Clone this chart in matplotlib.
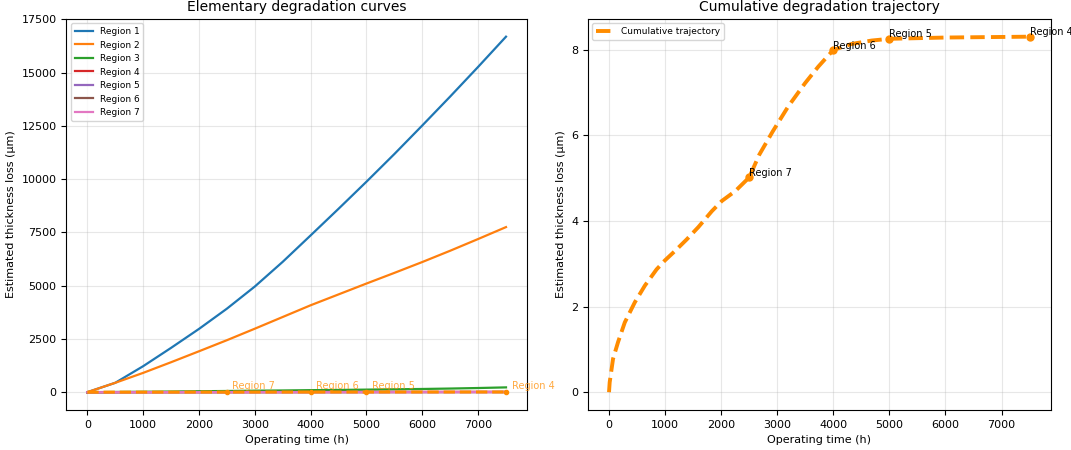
import matplotlib
matplotlib.use('Agg')
import matplotlib.pyplot as plt

# Operating time grid (h) for the elementary curves
time_h = [0, 500, 1000, 1500, 2000, 2500, 3000, 3500, 4000, 4500, 5000,
          5500, 6000, 6500, 7000, 7500]

# Elementary degradation curves (um)
region_1 = [0, 440, 1220, 2080, 2970, 3920, 4960, 6120, 7360, 8610, 9880,
            11180, 12520, 13880, 15270, 16690]
region_2 = [0, 440, 906, 1406, 1920, 2440, 2980, 3530, 4080, 4590, 5100,
            5600, 6110, 6640, 7190, 7750]
region_3 = [0, 10, 20, 30, 45, 55, 70, 80, 95, 105, 120, 135, 150, 170, 195, 225]
region_4 = [0, 1, 2, 3, 4, 5, 6, 7, 8, 9, 10, 11, 12, 13, 14, 15]
region_5 = [0, 1, 1, 2, 2, 3, 3, 4, 4, 5, 5, 6, 6, 7, 7, 8]
region_6 = [0, 0, 1, 1, 1, 2, 2, 2, 3, 3, 3, 4, 4, 4, 5, 5]
region_7 = [0, 0, 0, 1, 1, 1, 1, 1, 2, 2, 2, 2, 2, 3, 3, 3]
region_curves = [region_1, region_2, region_3, region_4, region_5, region_6, region_7]
region_names = ['Region 1', 'Region 2', 'Region 3', 'Region 4', 'Region 5',
                'Region 6', 'Region 7']

# Cumulative trajectory (um)
cum_time = [0, 12, 72, 161, 281, 460, 639, 848, 997, 1176, 1385, 1594, 1833,
            2012, 2251, 2500, 2679, 2917, 3196, 3494, 3732, 4000, 4327, 4685,
            5000, 6000, 7500]
cum_loss = [0, 0.23, 0.78, 1.17, 1.63, 2.10, 2.49, 2.87, 3.08, 3.30, 3.57,
            3.86, 4.23, 4.47, 4.70, 5.02, 5.55, 6.09, 6.68, 7.22, 7.61, 8.00,
            8.14, 8.22, 8.26, 8.29, 8.31]

# Region transitions along the trajectory
switch_time = [2500, 4000, 5000, 7500]
switch_loss = [5.02, 8.00, 8.26, 8.31]
switch_names = ['Region 7', 'Region 6', 'Region 5', 'Region 4']

traj_color = '#ff8c00'

fig = plt.figure(figsize=(10.71, 4.5), dpi=100)
ax1 = fig.add_axes([0.062, 0.089, 0.430, 0.869])
ax2 = fig.add_axes([0.549, 0.089, 0.432, 0.869])

# Left panel: elementary curves
for name, values in zip(region_names, region_curves):
    ax1.plot(time_h, values, lw=1.6, label=name)
ax1.plot(cum_time, cum_loss, ls='--', color=traj_color, lw=2.2)
ax1.plot(switch_time, switch_loss, 'o', color=traj_color, ms=3)
for t, v, name in zip(switch_time, switch_loss, switch_names):
    ax1.annotate(name, (t, v), xytext=(4, 2), textcoords='offset points',
                 fontsize=7, color=traj_color, alpha=0.75)
ax1.set_title('Elementary degradation curves', fontsize=10)
ax1.set_xlabel('Operating time (h)', fontsize=8)
ax1.set_ylabel('Estimated thickness loss (µm)', fontsize=8)
ax1.tick_params(labelsize=8)
ax1.grid(True, alpha=0.3)
ax1.legend(loc='upper left', fontsize=6.5)

# Right panel: cumulative trajectory
ax2.plot(cum_time, cum_loss, ls='--', color=traj_color, lw=2.8,
         label='Cumulative trajectory')
ax2.plot(switch_time, switch_loss, 'o', color=traj_color, ms=5)
for t, v, name in zip(switch_time, switch_loss, switch_names):
    ax2.annotate(name, (t, v), xytext=(0, 1), textcoords='offset points',
                 fontsize=7)
ax2.set_title('Cumulative degradation trajectory', fontsize=10)
ax2.set_xlabel('Operating time (h)', fontsize=8)
ax2.set_ylabel('Estimated thickness loss (µm)', fontsize=8)
ax2.tick_params(labelsize=8)
ax2.grid(True, alpha=0.3)
ax2.legend(loc='upper left', fontsize=6.5)

fig.savefig('out.png', dpi=100)
